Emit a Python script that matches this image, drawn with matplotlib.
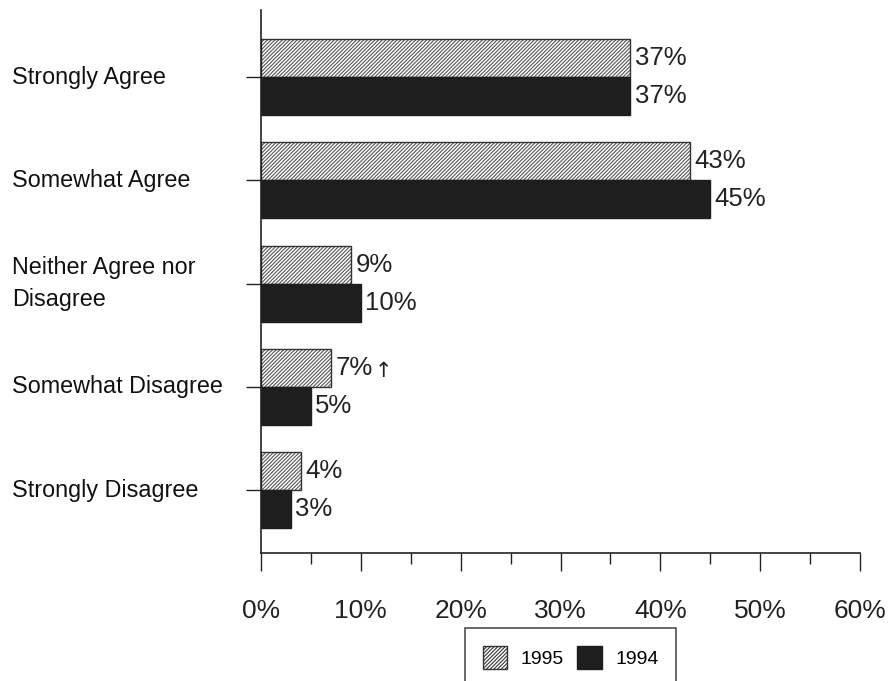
import matplotlib
matplotlib.use("Agg")
import matplotlib.pyplot as plt
from matplotlib.patches import Patch
from matplotlib.transforms import blended_transform_factory
from matplotlib.ticker import MultipleLocator, FuncFormatter
import numpy as np

categories = ["Strongly Agree", "Somewhat Agree", "Neither Agree nor\nDisagree",
              "Somewhat Disagree", "Strongly Disagree"]
vals_1995 = [37, 43, 9, 7, 4]
vals_1994 = [37, 45, 10, 5, 3]

plt.rcParams['font.family'] = ['Liberation Sans', 'DejaVu Sans']
plt.rcParams['hatch.linewidth'] = 0.8

fig = plt.figure(figsize=(8.89, 6.81), dpi=100)
ax = fig.add_axes([261/889, 1-553/681, (860-261)/889, (553-10)/681])

y = np.arange(len(categories))
h = 0.368
hatch_col = '#555555'
# hatched fill first, then the dark outline on top
ax.barh(y - h/2, vals_1995, height=h, color='white', edgecolor=hatch_col,
        hatch='/////////', linewidth=0)
ax.barh(y - h/2, vals_1995, height=h, fill=False, edgecolor='#333333', linewidth=1)
ax.barh(y + h/2, vals_1994, height=h, color='#1e1e1e', edgecolor='#1e1e1e',
        linewidth=1)

for i in range(len(categories)):
    ax.text(vals_1995[i] + 0.45, y[i] - h/2, "%d%%" % vals_1995[i], va='center',
            ha='left', fontsize=18.5, color='#222222')
    ax.text(vals_1994[i] + 0.45, y[i] + h/2, "%d%%" % vals_1994[i], va='center',
            ha='left', fontsize=18.5, color='#222222')
# small arrow next to 1995 "Somewhat Disagree"
ax.text(vals_1995[3] + 4.4, y[3] - h/2 + 0.03, "\u2191", va='center', ha='left',
        fontsize=15, color='#222222', family='DejaVu Sans')

ax.set_xlim(0, 60)
ax.set_ylim(4.61, -0.649)
ax.xaxis.set_major_locator(MultipleLocator(10))
ax.xaxis.set_minor_locator(MultipleLocator(5))
ax.xaxis.set_major_formatter(FuncFormatter(lambda v, p: "%d%%" % v))
ax.tick_params(axis='x', which='major', length=13, width=1, labelsize=19, pad=20,
               colors='#222222')
ax.tick_params(axis='x', which='minor', length=8, width=1, colors='#222222')
ax.set_yticks(y)
ax.set_yticklabels([])
ax.tick_params(axis='y', length=11, width=1, colors='#222222')
for s in ['top', 'right']:
    ax.spines[s].set_visible(False)
for s in ['left', 'bottom']:
    ax.spines[s].set_color('#222222')
    ax.spines[s].set_linewidth(1.2)

tr = blended_transform_factory(fig.transFigure, ax.transData)
for i, c in enumerate(categories):
    ax.text(12/889, y[i], c, transform=tr, ha='left', va='center', fontsize=16.8,
            color='#111111', linespacing=1.5)

handles = [Patch(facecolor='white', edgecolor='#333333', hatch='/////////', label='1995'),
           Patch(facecolor='#1e1e1e', edgecolor='#1e1e1e', label='1994')]
leg = fig.legend(handles=handles, loc='upper left', ncol=2,
                 bbox_to_anchor=(465/889, 1-628/681), borderaxespad=0, frameon=True,
                 fancybox=False, fontsize=14, handlelength=1.25, handleheight=1.5,
                 borderpad=0.9, columnspacing=0.7, handletextpad=0.7,
                 edgecolor='#222222')
leg.get_frame().set_linewidth(1.2)

fig.savefig("out.png", dpi=100)
